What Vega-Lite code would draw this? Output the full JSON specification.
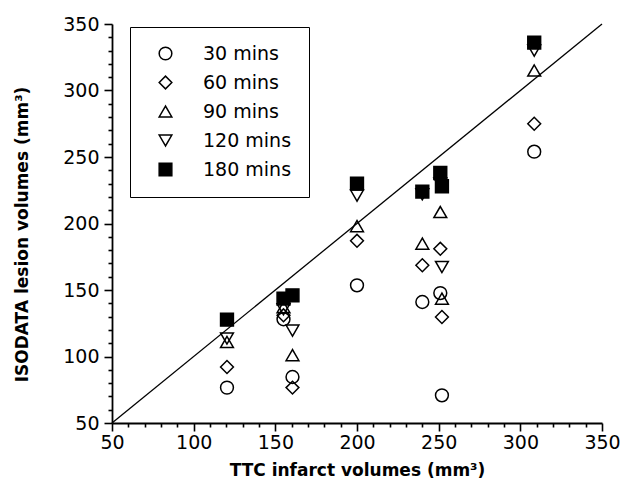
{
  "$schema": "https://vega.github.io/schema/vega-lite/v6.json",
  "width": 490,
  "height": 399,
  "autosize": {"type": "none"},
  "padding": {"left": 112, "top": 24, "right": 32, "bottom": 68},
  "background": "white",
  "config": {
    "view": {"stroke": null},
    "font": "DejaVu Sans",
    "axis": {
      "domainColor": "black",
      "domainWidth": 1.8,
      "tickColor": "black",
      "tickWidth": 1.6,
      "grid": false,
      "labelFont": "DejaVu Sans",
      "labelFontSize": 19,
      "labelColor": "black",
      "labelOverlap": false,
      "tickCount": 40,
      "titleFont": "DejaVu Sans",
      "titleFontSize": 17,
      "titleFontWeight": "bold",
      "titleColor": "black"
    },
    "legend": {
      "title": null,
      "orient": "none",
      "legendX": 18,
      "legendY": 3,
      "strokeColor": "black",
      "padding": 17,
      "symbolOffset": 9,
      "labelOffset": 28,
      "labelFontSize": 19,
      "labelFont": "DejaVu Sans",
      "labelColor": "black",
      "rowPadding": 9,
      "symbolSize": 160,
      "symbolStrokeWidth": 1.5
    }
  },
  "layer": [
    {
      "data": {"values": [{"x": 50, "y": 50, "x2": 350, "y2": 350}]},
      "mark": {"type": "rule", "color": "black", "strokeWidth": 1.3},
      "encoding": {
        "x": {"field": "x", "type": "quantitative"},
        "y": {"field": "y", "type": "quantitative"},
        "x2": {"field": "x2"},
        "y2": {"field": "y2"}
      }
    },
    {
      "data": {"values": [
        {"ttc": 120.4, "iso": 76.6, "time": "30 mins"},
        {"ttc": 120.4, "iso": 92.1, "time": "60 mins"},
        {"ttc": 120.4, "iso": 110.9, "time": "90 mins"},
        {"ttc": 120.4, "iso": 113.5, "time": "120 mins"},
        {"ttc": 155, "iso": 128, "time": "30 mins"},
        {"ttc": 155, "iso": 131, "time": "60 mins"},
        {"ttc": 155, "iso": 137, "time": "90 mins"},
        {"ttc": 155, "iso": 135.5, "time": "120 mins"},
        {"ttc": 160.5, "iso": 84.6, "time": "30 mins"},
        {"ttc": 160.5, "iso": 76.6, "time": "60 mins"},
        {"ttc": 160.5, "iso": 101, "time": "90 mins"},
        {"ttc": 160.5, "iso": 119.5, "time": "120 mins"},
        {"ttc": 200, "iso": 153.5, "time": "30 mins"},
        {"ttc": 200, "iso": 187, "time": "60 mins"},
        {"ttc": 200, "iso": 198, "time": "90 mins"},
        {"ttc": 200, "iso": 221, "time": "120 mins"},
        {"ttc": 240, "iso": 141, "time": "30 mins"},
        {"ttc": 240, "iso": 168.6, "time": "60 mins"},
        {"ttc": 240, "iso": 184.9, "time": "90 mins"},
        {"ttc": 240, "iso": 222, "time": "120 mins"},
        {"ttc": 251, "iso": 147.7, "time": "30 mins"},
        {"ttc": 251, "iso": 181, "time": "60 mins"},
        {"ttc": 251, "iso": 208.6, "time": "90 mins"},
        {"ttc": 251, "iso": 230, "time": "120 mins"},
        {"ttc": 252, "iso": 70.8, "time": "30 mins"},
        {"ttc": 252, "iso": 129.7, "time": "60 mins"},
        {"ttc": 252, "iso": 143.5, "time": "90 mins"},
        {"ttc": 252, "iso": 167.3, "time": "120 mins"},
        {"ttc": 308.5, "iso": 254, "time": "30 mins"},
        {"ttc": 308.5, "iso": 275, "time": "60 mins"},
        {"ttc": 308.5, "iso": 315, "time": "90 mins"},
        {"ttc": 308.5, "iso": 330, "time": "120 mins"},
        {"ttc": 120.4, "iso": 127.7, "time": "180 mins"},
        {"ttc": 155, "iso": 143.5, "time": "180 mins"},
        {"ttc": 160.5, "iso": 146, "time": "180 mins"},
        {"ttc": 200, "iso": 230, "time": "180 mins"},
        {"ttc": 240, "iso": 224, "time": "180 mins"},
        {"ttc": 251, "iso": 238, "time": "180 mins"},
        {"ttc": 252, "iso": 228, "time": "180 mins"},
        {"ttc": 308.5, "iso": 336, "time": "180 mins"}
      ]},
      "mark": {"type": "point", "strokeWidth": 1.5, "opacity": 1, "size": 165},
      "encoding": {
        "x": {
          "field": "ttc", "type": "quantitative",
          "scale": {"domain": [50, 350], "nice": false, "zero": false},
          "axis": {
            "title": "TTC infarct volumes (mm³)",
            "values": [50,60,70,80,90,100,110,120,130,140,150,160,170,180,190,200,210,220,230,240,250,260,270,280,290,300,310,320,330,340,350],
            "tickCount": 40,
            "labelExpr": "datum.value % 50 === 0 ? datum.label : ''",
            "tickSize": {"condition": {"test": "datum.value % 50 === 0", "value": 8}, "value": 4},
            "labelPadding": 2,
            "labelFlush": false,
            "titleX": 245,
            "titleY": 47,
            "titleBaseline": "middle",
            "titleAlign": "center"
          }
        },
        "y": {
          "field": "iso", "type": "quantitative",
          "scale": {"domain": [50, 350], "nice": false, "zero": false},
          "axis": {
            "title": "ISODATA lesion volumes (mm³)",
            "values": [50,60,70,80,90,100,110,120,130,140,150,160,170,180,190,200,210,220,230,240,250,260,270,280,290,300,310,320,330,340,350],
            "tickCount": 40,
            "labelExpr": "datum.value % 50 === 0 ? datum.label : ''",
            "tickSize": {"condition": {"test": "datum.value % 50 === 0", "value": 8}, "value": 4},
            "labelPadding": 5,
            "labelFlush": false,
            "titleX": -90,
            "titleY": 210,
            "titleAngle": 270,
            "titleBaseline": "middle",
            "titleAlign": "center"
          }
        },
        "shape": {
          "field": "time", "type": "nominal",
          "scale": {
            "domain": ["30 mins", "60 mins", "90 mins", "120 mins", "180 mins"],
            "range": ["circle", "diamond", "triangle-up", "triangle-down", "square"]
          }
        },
        "fill": {
          "field": "time", "type": "nominal",
          "scale": {
            "domain": ["30 mins", "60 mins", "90 mins", "120 mins", "180 mins"],
            "range": ["transparent", "transparent", "transparent", "transparent", "black"]
          }
        },
        "stroke": {
          "field": "time", "type": "nominal",
          "scale": {
            "domain": ["30 mins", "60 mins", "90 mins", "120 mins", "180 mins"],
            "range": ["black", "black", "black", "black", "black"]
          }
        }
      }
    }
  ]
}
